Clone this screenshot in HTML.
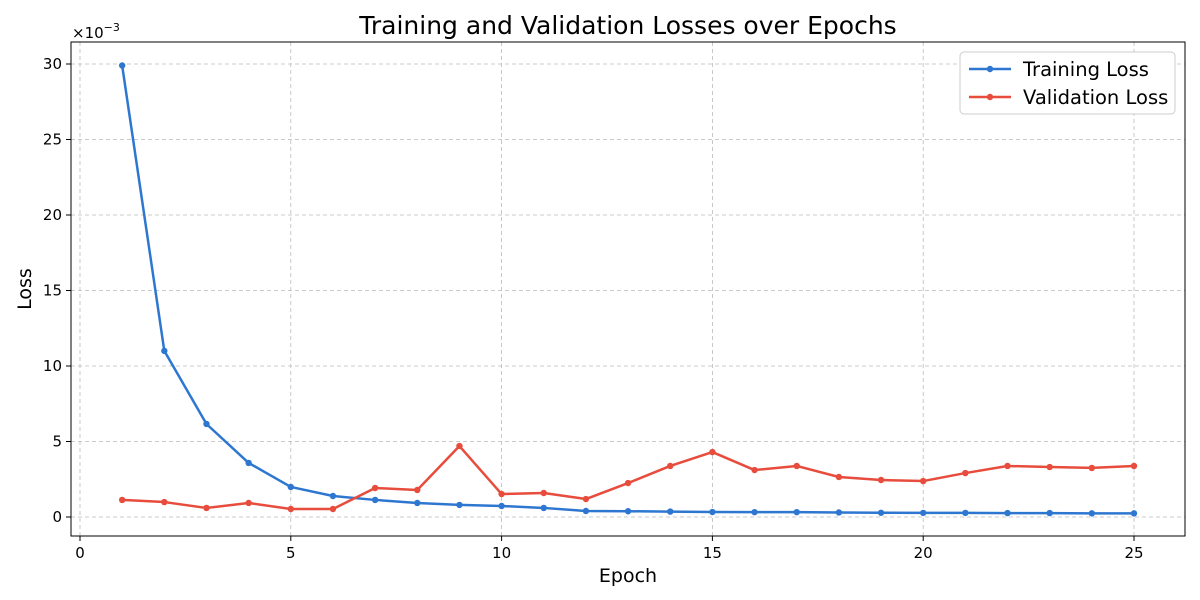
<!DOCTYPE html>
<html><head><meta charset="utf-8"><style>
html,body{margin:0;padding:0;background:#fff;}
svg{display:block;font-family:"DejaVu Sans","Liberation Sans",sans-serif;}
</style></head><body>
<svg id="chart" width="1200" height="600" viewBox="0 0 1200 600">
<text x="628" y="34" font-size="25" text-anchor="middle" fill="#000">Training and Validation Losses over Epochs</text>
<g id="grid"></g>
<g id="axes"></g>
<g id="series"></g>
<rect x="71" y="42" width="1114" height="494" fill="none" stroke="#000" stroke-width="1"/>
<text x="628" y="582" font-size="19" text-anchor="middle">Epoch</text>
<text x="31" y="289" font-size="19" text-anchor="middle" transform="rotate(-90 31 289)">Loss</text>
<text x="72" y="38" font-size="15">×10<tspan dy="-7" font-size="11">−3</tspan></text>
<g>
<rect x="960" y="52" width="215" height="62" rx="4" fill="#fff" stroke="#ccc"/>
<line x1="969" y1="69" x2="1011" y2="69" stroke="#2e77d0" stroke-width="2.5"/>
<circle cx="990" cy="69" r="3.2" fill="#2e77d0"/>
<text x="1023" y="76" font-size="19.5">Training Loss</text>
<line x1="969" y1="97" x2="1011" y2="97" stroke="#e74c3c" stroke-width="2.5"/>
<circle cx="990" cy="97" r="3.2" fill="#e74c3c"/>
<text x="1023" y="104" font-size="19.5">Validation Loss</text>
</g>
</svg>
<script>
const epochs=[1,2,3,4,5,6,7,8,9,10,11,12,13,14,15,16,17,18,19,20,21,22,23,24,25];
const trainLoss=[29.9,11.0,6.16,3.58,1.99,1.39,1.13,0.93,0.8,0.73,0.6,0.4,0.38,0.36,0.33,0.32,0.32,0.3,0.28,0.27,0.27,0.26,0.26,0.24,0.24];
const valLoss=[1.13,0.99,0.6,0.93,0.53,0.53,1.92,1.79,4.7,1.52,1.59,1.19,2.25,3.38,4.3,3.11,3.38,2.65,2.45,2.38,2.91,3.38,3.31,3.25,3.38];
const xTicks=[0,5,10,15,20,25];
const yTicks=[0,5,10,15,20,25,30];
const NS="http://www.w3.org/2000/svg";
const xs=v=>80+v*(1134-80)/25;
const ys=v=>517-v*(517-64)/30;
function mk(tag,attrs,parent){const e=document.createElementNS(NS,tag);for(const k in attrs)e.setAttribute(k,attrs[k]);document.getElementById(parent).appendChild(e);return e;}
xTicks.forEach(t=>{
  const g=mk('line',{x1:xs(t),x2:xs(t),y1:42,y2:536,stroke:'#bbb','stroke-dasharray':'4,3','stroke-width':0.8},'grid');
  
  
  const tk=mk('line',{x1:xs(t),x2:xs(t),y1:536,y2:541,stroke:'#000'},'axes');
  
  
  const tx=mk('text',{x:xs(t),y:558,'font-size':15,'text-anchor':'middle'},'axes');
  tx.textContent=t;
  
  
});
yTicks.forEach(t=>{
  const g=mk('line',{x1:71,x2:1185,y1:ys(t),y2:ys(t),stroke:'#bbb','stroke-dasharray':'4,3','stroke-width':0.8},'grid');
  
  
  const tk=mk('line',{x1:66,x2:71,y1:ys(t),y2:ys(t),stroke:'#000'},'axes');
  
  
  const tx=mk('text',{x:62,y:ys(t)+5,'font-size':15,'text-anchor':'end'},'axes');
  tx.textContent=t;
  
  
});
function series(vals,color,name){
  const pts=vals.map((v,i)=>xs(epochs[i])+','+ys(v)).join(' ');
  const pl=mk('polyline',{points:pts,fill:'none',stroke:color,'stroke-width':2.5,'stroke-linejoin':'round'},'series');
  
  
  vals.forEach((v,i)=>{
    const c=mk('circle',{cx:xs(epochs[i]),cy:ys(v),r:3.2,fill:color},'series');
    
    
  });
}
series(trainLoss,'#2e77d0','training-loss');
series(valLoss,'#e74c3c','validation-loss');
</script>
</body></html>
